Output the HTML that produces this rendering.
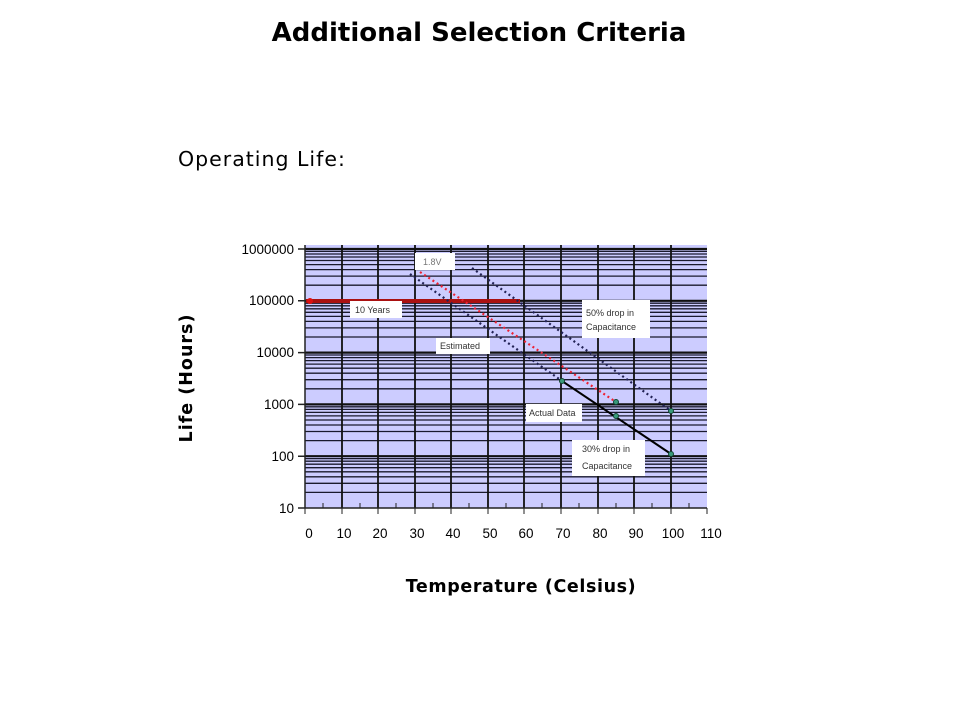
<!DOCTYPE html>
<html><head><meta charset="utf-8"><style>
body{margin:0;width:960px;height:720px;background:#fff;overflow:hidden;font-family:"Liberation Sans","DejaVu Sans",sans-serif}
</style></head><body>
<svg width="960" height="720" xmlns="http://www.w3.org/2000/svg" style="position:absolute;left:0;top:0">
<text x="479" y="41" text-anchor="middle" font-family="DejaVu Sans, sans-serif" font-weight="bold" font-size="26">Additional Selection Criteria</text>
<text x="178" y="166" font-family="DejaVu Sans, sans-serif" font-size="20.5" letter-spacing="1">Operating Life:</text>
<rect x="305" y="245" width="402" height="263" fill="#ccccff"/>
<path fill="none" stroke="#1a1a2e" stroke-width="1.3" d="M305 492.4H707M305 483.3H707M305 476.8H707M305 471.8H707M305 467.7H707M305 464.2H707M305 461.2H707M305 458.6H707
M305 440.6H707M305 431.5H707M305 425H707M305 420H707M305 415.9H707M305 412.4H707M305 409.4H707M305 406.8H707
M305 388.8H707M305 379.7H707M305 373.2H707M305 368.2H707M305 364.1H707M305 360.6H707M305 357.6H707M305 355H707
M305 337H707M305 327.9H707M305 321.4H707M305 316.4H707M305 312.3H707M305 308.8H707M305 305.8H707M305 303.2H707
M305 285.2H707M305 276.1H707M305 269.6H707M305 264.6H707M305 260.5H707M305 257H707M305 254H707M305 251.4H707"/>
<path fill="none" stroke="#111" stroke-width="2.2" d="M305 249H707M305 300.8H707M305 352.6H707M305 404.4H707M305 456.2H707"/>
<path fill="none" stroke="#111" stroke-width="1.8" d="M342 245V508M378 245V508M415 245V508M451 245V508M488 245V508M524 245V508M561 245V508M598 245V508M634 245V508M671 245V508"/>
<path fill="none" stroke="#222" stroke-width="1.5" d="M305 245V508H707M298 249H305M298 300.8H305M298 352.6H305M298 404.4H305M298 456.2H305M298 508H305"/>
<path fill="none" stroke="#222" stroke-width="1" d="M305 508v6M342 508v6M378 508v6M415 508v6M451 508v6M488 508v6M524 508v6M561 508v6M598 508v6M634 508v6M671 508v6M707 508v6M323 503v5M360 503v5M396 503v5M433 503v5M469 503v5M506 503v5M542 503v5M579 503v5M616 503v5M652 503v5M689 503v5"/>
<line x1="306" y1="301" x2="520" y2="301" stroke="#aa1111" stroke-width="4"/>
<circle cx="310" cy="301" r="3" fill="#dd1111"/>
<line x1="410" y1="274" x2="562" y2="381" stroke="#222255" stroke-width="2.2" stroke-dasharray="2,3"/>
<line x1="420" y1="272" x2="616" y2="402" stroke="#ee2233" stroke-width="2.2" stroke-dasharray="2,3"/>
<line x1="472" y1="268" x2="671" y2="411" stroke="#222255" stroke-width="2.2" stroke-dasharray="2,3"/>
<line x1="562" y1="381" x2="671" y2="454" stroke="#000" stroke-width="2"/>
<g fill="#3a9a7a" stroke="#114433" stroke-width="1"><circle cx="562" cy="381" r="2.5"/><circle cx="616" cy="416" r="2.5"/><circle cx="671" cy="454" r="2.5"/><circle cx="616" cy="402" r="2.5"/><circle cx="671" cy="411" r="2.5"/></g>
<g fill="#fff"><rect x="415" y="253" width="40" height="17"/><rect x="350" y="301" width="52" height="17"/><rect x="436" y="338" width="54" height="16"/><rect x="582" y="300" width="68" height="38"/><rect x="526" y="404" width="56" height="18"/><rect x="572" y="440" width="73" height="36"/></g>
<g font-size="9" fill="#333"><text x="423" y="265" fill="#777">1.8V</text><text x="355" y="313">10 Years</text><text x="440" y="349">Estimated</text><text x="586" y="316">50% drop in</text><text x="586" y="330">Capacitance</text><text x="529" y="416">Actual Data</text><text x="582" y="452">30% drop in</text><text x="582" y="469">Capacitance</text></g>
<g font-size="13.5" fill="#000" text-anchor="end"><text x="294" y="254">1000000</text><text x="294" y="305">100000</text><text x="294" y="357">10000</text><text x="294" y="409">1000</text><text x="294" y="461">100</text><text x="294" y="513">10</text></g>
<g font-size="13.5" fill="#000" text-anchor="middle"><text x="309" y="538">0</text><text x="344" y="538">10</text><text x="380" y="538">20</text><text x="417" y="538">30</text><text x="453" y="538">40</text><text x="490" y="538">50</text><text x="526" y="538">60</text><text x="563" y="538">70</text><text x="600" y="538">80</text><text x="636" y="538">90</text><text x="673" y="538">100</text><text x="711" y="538">110</text></g>
<text x="521" y="592" text-anchor="middle" font-family="DejaVu Sans, sans-serif" font-weight="bold" font-size="17.5" letter-spacing="0.6">Temperature (Celsius)</text>
<text transform="translate(192,378) rotate(-90)" text-anchor="middle" font-family="DejaVu Sans, sans-serif" font-weight="bold" font-size="17.5" letter-spacing="1">Life (Hours)</text>
</svg>
</body></html>
